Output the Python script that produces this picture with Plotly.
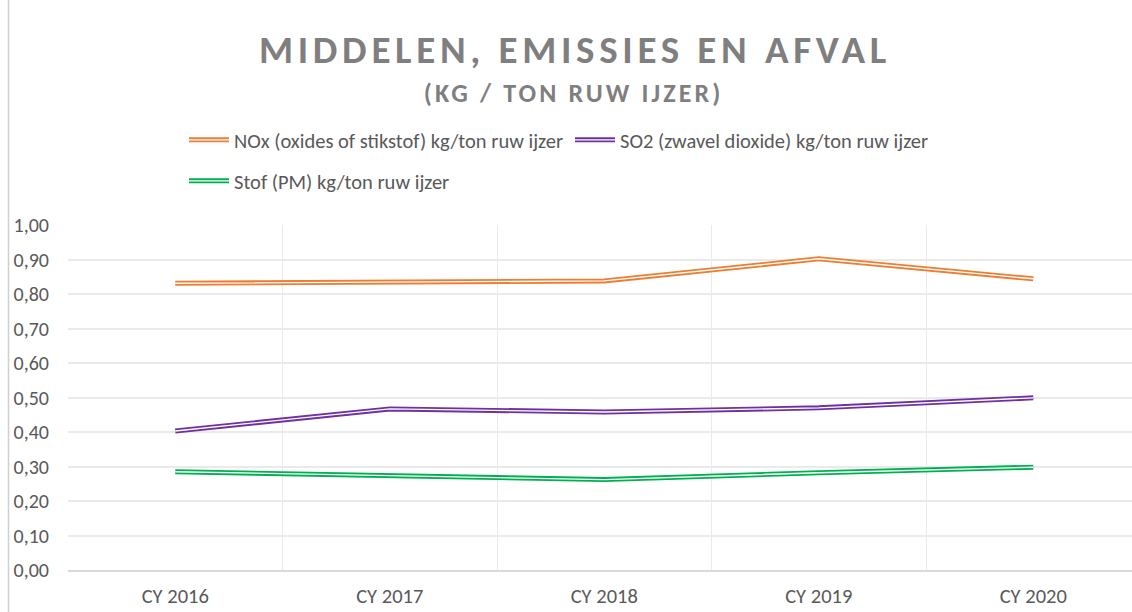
import plotly.graph_objects as go

categories = ["CY 2016", "CY 2017", "CY 2018", "CY 2019", "CY 2020"]
nox = [0.831, 0.834, 0.838, 0.902, 0.844]
so2 = [0.403, 0.467, 0.458, 0.470, 0.499]
stof = [0.285, 0.274, 0.262, 0.282, 0.298]

series_names = [
    "NOx (oxides of stikstof) kg/ton ruw ijzer",
    "SO2 (zwavel dioxide) kg/ton ruw ijzer",
    "Stof (PM) kg/ton ruw ijzer",
]
series_values = [nox, so2, stof]
series_colors = ["#ED7D31", "#7030A0", "#00B050"]
series_legends = ["legend", "legend", "legend2"]

FONT = "Carlito, 'Open Sans', sans-serif"
GREY = "#595959"

# plot area geometry (pixels)
L, T, B = 68, 225, 42
W, H = 1132, 612
PW, PH = W - L, H - T - B
cat_px = 214.5

fig = go.Figure()
for name, vals, col, lg in zip(series_names, series_values, series_colors, series_legends):
    fig.add_trace(go.Scatter(
        x=categories, y=vals, name=name, mode="lines",
        line=dict(color=col, width=5), legend=lg, hoverinfo="x+y+name",
    ))
    fig.add_trace(go.Scatter(
        x=categories, y=vals, mode="lines", showlegend=False,
        line=dict(color="white", width=1.4), hoverinfo="skip",
    ))

fig.update_layout(
    width=W, height=H,
    margin=dict(l=L, r=0, t=T, b=B, pad=0, autoexpand=False),
    paper_bgcolor="white", plot_bgcolor="white",
    separators=",.",
    font=dict(family=FONT, color=GREY, size=20),
    title=dict(
        text="<b>MIDDELEN, EMISSIES EN AFVAL</b>",
        x=575 / W, xref="container", xanchor="center",
        y=1 - 49.5 / H, yref="container", yanchor="middle",
        font=dict(family=FONT, size=39, color="#7F7F7F"),
    ),
    annotations=[dict(
        text="<b>(KG / TON RUW IJZER)</b>",
        x=(573 - L) / PW, xref="paper", xanchor="center",
        y=(570 - 93.5) / PH, yref="paper", yanchor="middle",
        showarrow=False, font=dict(family=FONT, size=26, color="#7F7F7F"),
    )],
    xaxis=dict(
        type="category", range=[-0.5, -0.5 + PW / cat_px],
        tickson="boundaries", ticks="", showgrid=True, gridcolor="#EAEAEA", gridwidth=1,
        showline=True, linecolor="#D9D9D9", linewidth=1.5,
        tickfont=dict(size=20.5, color=GREY), ticklabelstandoff=7,
        fixedrange=True,
    ),
    yaxis=dict(
        range=[0, 1], dtick=0.1, tickformat=".2f", showgrid=True,
        gridcolor="#EAEAEA", gridwidth=1.5, zeroline=False, showline=False,
        ticks="", tickfont=dict(size=20, color=GREY), ticklabelstandoff=18,
        fixedrange=True,
    ),
    legend=dict(
        orientation="h", x=(184 - L) / PW, xanchor="left",
        y=(570 - 140) / PH, yanchor="middle",
        entrywidth=331, entrywidthmode="pixels", itemwidth=40,
        font=dict(family=FONT, size=20.5, color=GREY), bgcolor="rgba(0,0,0,0)",
    ),
    legend2=dict(
        orientation="h", x=(184 - L) / PW, xanchor="left",
        y=(570 - 181) / PH, yanchor="middle", itemwidth=40,
        font=dict(family=FONT, size=20.5, color=GREY), bgcolor="rgba(0,0,0,0)",
    ),
    shapes=[dict(
        type="line", xref="paper", yref="paper",
        x0=(8.5 - L) / PW, x1=(8.5 - L) / PW,
        y0=(570 - H) / PH, y1=570 / PH,
        line=dict(color="#D0D0D0", width=1.5),
    )],
    showlegend=True,
)

post = (
    "document.body.style.margin='0';"
    "var s=document.createElement('style');"
    "s.textContent='.gtitle, .annotation-text{letter-spacing:0.12em;}';"
    "document.head.appendChild(s);"
    "document.querySelectorAll('.legendlines path').forEach(function(p){"
    "var c=p.cloneNode(true);c.style.stroke='#ffffff';c.style.strokeWidth='1.4px';"
    "p.parentNode.appendChild(c);});"
)
fig.write_html("out.html", post_script=post, config={"displayModeBar": False})
